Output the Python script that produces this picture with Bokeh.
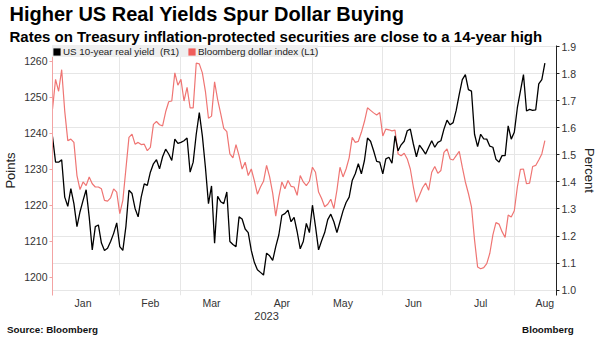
import math
import pandas as pd
from bokeh.plotting import figure
from bokeh.models import (Range1d, LinearAxis, FixedTicker, Legend, Title,
                          LegendItem, NumeralTickFormatter)
from bokeh.embed import file_html
from bokeh.resources import INLINE

# ---------------- data ----------------
dates = pd.bdate_range("2023-01-02", periods=162)

real_yield = [
    1.567, 1.473, 1.473, 1.482, 1.344, 1.310, 1.375, 1.320, 1.235, 1.290,
    1.332, 1.371, 1.271, 1.149, 1.235, 1.241, 1.174, 1.147, 1.155, 1.180,
    1.210, 1.249, 1.161, 1.147, 1.235, 1.369, 1.357, 1.302, 1.271, 1.344,
    1.393, 1.387, 1.436, 1.467, 1.482, 1.448, 1.493, 1.521, 1.503, 1.479,
    1.558, 1.542, 1.546, 1.552, 1.562, 1.436, 1.473, 1.576, 1.656, 1.570,
    1.454, 1.320, 1.385, 1.174, 1.347, 1.327, 1.320, 1.363, 1.180, 1.169,
    1.161, 1.271, 1.263, 1.226, 1.213, 1.147, 1.103, 1.076, 1.066, 1.056,
    1.137, 1.127, 1.110, 1.161, 1.204, 1.277, 1.283, 1.296, 1.253, 1.269,
    1.216, 1.153, 1.180, 1.247, 1.213, 1.314, 1.235, 1.149, 1.183, 1.213,
    1.261, 1.281, 1.253, 1.213, 1.253, 1.293, 1.324, 1.344, 1.405, 1.430,
    1.467, 1.430, 1.479, 1.562, 1.550, 1.515, 1.476, 1.473, 1.430, 1.485,
    1.491, 1.469, 1.570, 1.515, 1.537, 1.550, 1.589, 1.595, 1.540, 1.493,
    1.536, 1.520, 1.503, 1.528, 1.552, 1.528, 1.546, 1.552, 1.595, 1.628,
    1.611, 1.619, 1.664, 1.723, 1.778, 1.796, 1.741, 1.735, 1.576, 1.530,
    1.576, 1.559, 1.558, 1.532, 1.528, 1.484, 1.473, 1.497, 1.497, 1.607,
    1.558, 1.583, 1.674, 1.735, 1.796, 1.662, 1.668, 1.664, 1.666, 1.762,
    1.778, 1.839,
]

dollar_index = [
    1246.7, 1255.0, 1251.7, 1257.7, 1246.2, 1238.0, 1238.4, 1237.5, 1228.3, 1224.4,
    1226.5, 1225.5, 1227.9, 1226.0, 1225.1, 1225.1, 1224.6, 1221.4, 1221.2, 1222.1,
    1224.6, 1223.7, 1217.7, 1221.4, 1230.1, 1238.9, 1239.8, 1237.0, 1237.5, 1236.9,
    1237.0, 1235.2, 1236.1, 1242.5, 1243.3, 1242.4, 1242.1, 1246.0, 1248.8, 1249.0,
    1256.8, 1253.4, 1255.0, 1249.0, 1252.8, 1247.1, 1247.1, 1259.5, 1259.3, 1256.8,
    1251.7, 1244.2, 1244.8, 1254.3, 1249.4, 1245.5, 1241.4, 1240.5, 1234.3, 1233.2,
    1236.9, 1233.8, 1230.1, 1232.0, 1228.3, 1230.1, 1226.9, 1223.1, 1225.1, 1226.7,
    1231.1, 1227.9, 1223.4, 1217.0, 1222.3, 1226.5, 1224.6, 1226.9, 1225.3, 1225.1,
    1222.8, 1228.3, 1226.5, 1225.5, 1226.7, 1230.6, 1229.2, 1223.7, 1221.9, 1219.6,
    1220.3, 1221.7, 1219.1, 1224.2, 1230.6, 1227.9, 1230.1, 1233.2, 1238.9, 1237.5,
    1237.8, 1240.3, 1243.3, 1247.1, 1246.4, 1245.7, 1245.1, 1245.8, 1239.3, 1241.2,
    1241.0, 1240.7, 1240.9, 1234.3, 1233.8, 1234.5, 1232.9, 1230.1, 1225.1, 1220.9,
    1222.8, 1224.9, 1226.2, 1224.2, 1229.2, 1230.8, 1228.9, 1229.7, 1234.7, 1235.7,
    1232.9, 1232.6, 1233.8, 1235.0, 1230.6, 1226.5, 1223.3, 1219.6, 1210.4, 1202.9,
    1202.4, 1202.7, 1203.8, 1206.7, 1211.8, 1215.2, 1214.8, 1212.7, 1211.1, 1217.3,
    1216.8, 1218.5, 1225.1, 1230.0, 1230.1, 1226.0, 1226.2, 1230.8, 1231.1, 1232.6,
    1234.3, 1238.0,
]

month_names = ["Jan", "Feb", "Mar", "Apr", "May", "Jun", "Jul", "Aug"]
points_ticks = [1200, 1210, 1220, 1230, 1240, 1250, 1260]
percent_ticks = [1.0, 1.1, 1.2, 1.3, 1.4, 1.5, 1.6, 1.7, 1.8, 1.9]
year_label = "2023"
series_labels = ["US 10-year real yield  (R1)", "Bloomberg dollar index (L1)"]
title_text = "Higher US Real Yields Spur Dollar Buying"
subtitle_text = "Rates on Treasury inflation-protected securities are close to a 14-year high"
source_text = "Source: Bloomberg"
brand_text = "Bloomberg"

# ---------------- derived positions ----------------
x = list(range(len(dates)))
month_start = [i for i in x if i == 0 or dates[i].month != dates[i - 1].month]
month_mid = [next(i for i in x if dates[i].month == m and dates[i].day >= 15)
             for m in range(1, len(month_names) + 1)]

FONT = "Liberation Sans"
RED = "#ef7573"
GRID = "#e6e6e6"
X_END = 164.8
PTS_LO, PTS_HI = 1194.96, 1264.42
YEAR_X = 70          # x position (index units) where the year caption sits
SOURCE_X = 0         # footer: source caption centre
BRAND_X = 162        # footer: brand caption centre

p = figure(width=600, height=337, output_backend="svg", toolbar_location=None,
           title=None,
           x_range=Range1d(0, X_END), y_range=Range1d(0.9806, 1.9037),
           y_axis_location="right",
           min_border_left=46, min_border_right=37, min_border_top=44,
           min_border_bottom=41, outline_line_color=None,
           background_fill_color="white", border_fill_color="white")
p.extra_y_ranges = {"pts": Range1d(PTS_LO, PTS_HI)}

# ---- header titles (first added = closest to plot)
p.add_layout(Title(text=subtitle_text, text_font=FONT, text_font_size="15px",
                   text_font_style="bold", text_color="black", align="left",
                   offset=-43, standoff=2, text_line_height=1.0), "above")
p.add_layout(Title(text=title_text, text_font=FONT, text_font_size="20px",
                   text_font_style="bold", text_color="black", align="left",
                   offset=-43, standoff=0, text_line_height=1.0), "above")

# ---- y axes
left_axis = LinearAxis(y_range_name="pts", ticker=FixedTicker(ticks=points_ticks),
                       axis_label="Points")
p.add_layout(left_axis, "left")
left_axis.axis_line_color = "#f3a3a3"
left_axis.major_tick_line_color = "#f3a3a3"
left_axis.minor_tick_line_color = None

right_axis = p.right[0]
right_axis.ticker = FixedTicker(ticks=percent_ticks)
right_axis.formatter = NumeralTickFormatter(format="0.0")
right_axis.axis_label = "Percent"
right_axis.axis_line_color = "#222222"
right_axis.major_tick_line_color = "#222222"
right_axis.minor_tick_line_color = None

for ax in (left_axis, right_axis):
    ax.major_tick_in = 0
    ax.major_tick_out = 3
    ax.major_label_standoff = 2
    ax.major_label_text_font = FONT
    ax.major_label_text_font_size = "10.5px"
    ax.major_label_text_color = "#333333"
    ax.axis_label_text_font = FONT
    ax.axis_label_text_font_size = "13px"
    ax.axis_label_text_font_style = "normal"
    ax.axis_label_text_color = "#222222"
    ax.axis_label_standoff = 3


def label_axis(ax, ticks, names, size, bold=False, color="#333333", standoff=1):
    ax.ticker = FixedTicker(ticks=ticks)
    ax.major_label_overrides = {t: n for t, n in zip(ticks, names)}
    ax.axis_line_color = None
    ax.major_tick_line_color = None
    ax.minor_tick_line_color = None
    ax.major_tick_out = 0
    ax.major_tick_in = 0
    ax.major_label_standoff = standoff
    ax.major_label_text_font = FONT
    ax.major_label_text_font_size = size
    ax.major_label_text_font_style = "bold" if bold else "normal"
    ax.major_label_text_color = color


# months row
label_axis(p.xaxis[0], month_mid, month_names, "10.5px", standoff=1)
# year row
year_axis = LinearAxis()
p.add_layout(year_axis, "below")
label_axis(year_axis, [YEAR_X], [year_label], "11px", standoff=0)
# footer row: source (left) and brand (right)
foot_axis = LinearAxis()
p.add_layout(foot_axis, "below")
label_axis(foot_axis, [SOURCE_X, BRAND_X], [source_text, brand_text], "9.8px",
           bold=True, color="#111111", standoff=1)

# ---- grids
p.xgrid.ticker = FixedTicker(ticks=month_start[1:])
p.xgrid.grid_line_color = GRID
p.ygrid.ticker = FixedTicker(ticks=percent_ticks)
p.ygrid.grid_line_color = GRID

# ---- series
p.line(x, dollar_index, y_range_name="pts", line_color=RED, line_width=1.2)
p.line(x, real_yield, line_color="black", line_width=1.3)

# ---- legend with square swatches (nothing drawn in the plot area)
nan = [math.nan]
sw_black = p.quad(left=nan, right=nan, top=nan, bottom=nan,
                  fill_color="black", line_color=None)
sw_red = p.quad(left=nan, right=nan, top=nan, bottom=nan,
                fill_color="#f05d5b", line_color=None)
legend = Legend(items=[LegendItem(label=series_labels[0], renderers=[sw_black]),
                       LegendItem(label=series_labels[1], renderers=[sw_red])],
                orientation="horizontal", location="top_left", margin=0,
                padding=2, spacing=8, label_standoff=2, glyph_width=9,
                glyph_height=9, label_height=12,
                label_text_font=FONT, label_text_font_size="9.8px",
                label_text_color="#222222", background_fill_color="#efefef",
                background_fill_alpha=1.0, border_line_color=None)
p.add_layout(legend)

open("out.html", "w").write(file_html(p, INLINE))
